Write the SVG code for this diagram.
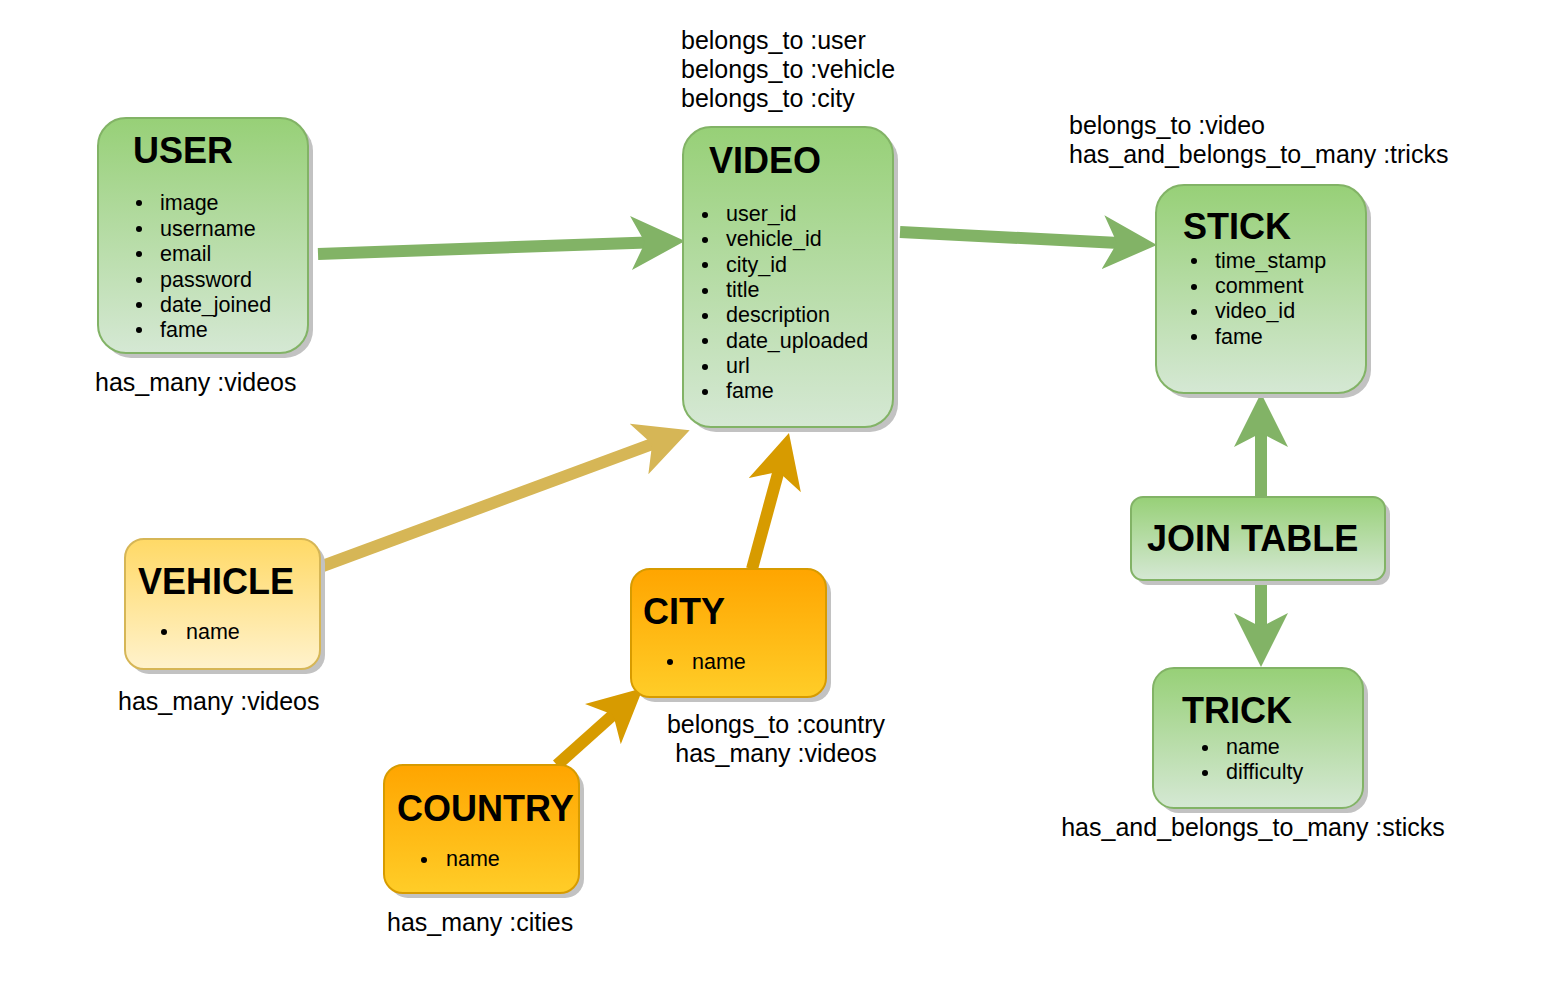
<svg xmlns="http://www.w3.org/2000/svg" width="1554" height="982" viewBox="0 0 1554 982">
<style>
.sh{fill:#c2c2c2}
.g{fill:url(#gG);stroke:#82b366;stroke-width:2}
.y{fill:url(#gY);stroke:#d6b656;stroke-width:2}
.o{fill:url(#gO);stroke:#d79b00;stroke-width:2}
.t{font-family:"Liberation Sans",Arial,sans-serif;font-weight:bold;font-size:36px;fill:#000}
.i{font-family:"Liberation Sans",Arial,sans-serif;font-size:21.5px;fill:#000}
.l{font-family:"Liberation Sans",Arial,sans-serif;font-size:25px;fill:#000}
.b{fill:#000}
.cg{stroke:#82b366;stroke-width:12;fill:none}
.cy{stroke:#d6b656;stroke-width:12;fill:none}
.co{stroke:#d79b00;stroke-width:12;fill:none}
</style>
<defs>
<linearGradient id="gG" x1="0" y1="0" x2="0" y2="1"><stop offset="0" stop-color="#97d077"/><stop offset="1" stop-color="#d5e8d4"/></linearGradient>
<linearGradient id="gY" x1="0" y1="0" x2="0" y2="1"><stop offset="0" stop-color="#ffd966"/><stop offset="1" stop-color="#fff2cc"/></linearGradient>
<linearGradient id="gO" x1="0" y1="0" x2="0" y2="1"><stop offset="0" stop-color="#ffa500"/><stop offset="1" stop-color="#ffcd28"/></linearGradient>
<marker id="mG" viewBox="0 0 54 54" refX="16" refY="27" markerWidth="54" markerHeight="54" markerUnits="userSpaceOnUse" orient="auto"><path d="M0,0 L54,27 L0,54 L14,27 Z" fill="#82b366"/></marker>
<marker id="mY" viewBox="0 0 54 54" refX="16" refY="27" markerWidth="54" markerHeight="54" markerUnits="userSpaceOnUse" orient="auto"><path d="M0,0 L54,27 L0,54 L14,27 Z" fill="#d6b656"/></marker>
<marker id="mO" viewBox="0 0 54 54" refX="16" refY="27" markerWidth="54" markerHeight="54" markerUnits="userSpaceOnUse" orient="auto"><path d="M0,0 L54,27 L0,54 L14,27 Z" fill="#d79b00"/></marker>
</defs>
<rect width="1554" height="982" fill="#fff"/>

<g id="connectors">
<line class="cg" x1="318" y1="254" x2="647" y2="242.4" marker-end="url(#mG)"/>
<line class="cg" x1="900" y1="232" x2="1119" y2="243" marker-end="url(#mG)"/>
<line class="cg" x1="1261" y1="497" x2="1261" y2="431" marker-end="url(#mG)"/>
<line class="cg" x1="1261" y1="580" x2="1261" y2="629" marker-end="url(#mG)"/>
<line class="cy" x1="320" y1="567" x2="654" y2="443.4" marker-end="url(#mY)"/>
<line class="co" x1="752" y1="569" x2="779" y2="469.7" marker-end="url(#mO)"/>
<line class="co" x1="557" y1="765" x2="614.7" y2="713.4" marker-end="url(#mO)"/>
</g>

<g id="user">
<rect class="sh" x="103" y="123" width="210" height="235" rx="28"/>
<rect class="g" x="98" y="118" width="210" height="235" rx="28"/>
<text class="t" x="133" y="163">USER</text>
<g class="i">
<circle class="b" cx="139" cy="203" r="3"/><text x="160" y="210">image</text>
<circle class="b" cx="139" cy="229" r="3"/><text x="160" y="235.5">username</text>
<circle class="b" cx="139" cy="254" r="3"/><text x="160" y="261">email</text>
<circle class="b" cx="139" cy="280" r="3"/><text x="160" y="286.5">password</text>
<circle class="b" cx="139" cy="305" r="3"/><text x="160" y="312">date_joined</text>
<circle class="b" cx="139" cy="330" r="3"/><text x="160" y="337">fame</text>
</g>
</g>

<g id="video">
<rect class="sh" x="688" y="132" width="210" height="300" rx="28"/>
<rect class="g" x="683" y="127" width="210" height="300" rx="28"/>
<text class="t" x="709" y="173">VIDEO</text>
<g class="i">
<circle class="b" cx="705" cy="215" r="3"/><text x="726" y="221">user_id</text>
<circle class="b" cx="705" cy="240" r="3"/><text x="726" y="246">vehicle_id</text>
<circle class="b" cx="705" cy="265" r="3"/><text x="726" y="272">city_id</text>
<circle class="b" cx="705" cy="291" r="3"/><text x="726" y="297">title</text>
<circle class="b" cx="705" cy="316" r="3"/><text x="726" y="322">description</text>
<circle class="b" cx="705" cy="341" r="3"/><text x="726" y="348">date_uploaded</text>
<circle class="b" cx="705" cy="367" r="3"/><text x="726" y="373">url</text>
<circle class="b" cx="705" cy="392" r="3"/><text x="726" y="398">fame</text>
</g>
</g>

<g id="stick">
<rect class="sh" x="1161" y="190" width="210" height="208" rx="28"/>
<rect class="g" x="1156" y="185" width="210" height="208" rx="28"/>
<text class="t" x="1183" y="239">STICK</text>
<g class="i">
<circle class="b" cx="1194" cy="261" r="3"/><text x="1215" y="268">time_stamp</text>
<circle class="b" cx="1194" cy="287" r="3"/><text x="1215" y="293">comment</text>
<circle class="b" cx="1194" cy="312" r="3"/><text x="1215" y="318">video_id</text>
<circle class="b" cx="1194" cy="337" r="3"/><text x="1215" y="344">fame</text>
</g>
</g>

<g id="join_table">
<rect class="sh" x="1136" y="502" width="254" height="83" rx="12"/>
<rect class="g" x="1131" y="497" width="254" height="83" rx="12"/>
<text class="t" x="1147" y="551">JOIN TABLE</text>
</g>

<g id="trick">
<rect class="sh" x="1158" y="673" width="210" height="140" rx="21"/>
<rect class="g" x="1153" y="668" width="210" height="140" rx="21"/>
<text class="t" x="1182" y="723">TRICK</text>
<g class="i">
<circle class="b" cx="1205" cy="748" r="3"/><text x="1226" y="754">name</text>
<circle class="b" cx="1205" cy="773" r="3"/><text x="1226" y="779">difficulty</text>
</g>
</g>

<g id="vehicle">
<rect class="sh" x="130" y="544" width="195" height="130" rx="19"/>
<rect class="y" x="125" y="539" width="195" height="130" rx="19"/>
<text class="t" x="138" y="594">VEHICLE</text>
<circle class="b" cx="164" cy="632" r="3"/><text class="i" x="186" y="639">name</text>
</g>

<g id="city">
<rect class="sh" x="636" y="574" width="195" height="128" rx="19"/>
<rect class="o" x="631" y="569" width="195" height="128" rx="19"/>
<text class="t" x="643" y="624">CITY</text>
<circle class="b" cx="670" cy="662" r="3"/><text class="i" x="692" y="669">name</text>
</g>

<g id="country">
<rect class="sh" x="389" y="770" width="195" height="128" rx="19"/>
<rect class="o" x="384" y="765" width="195" height="128" rx="19"/>
<text class="t" x="397" y="821">COUNTRY</text>
<circle class="b" cx="424" cy="860" r="3"/><text class="i" x="446" y="866">name</text>
</g>

<g id="labels" class="l">
<text x="681" y="49">belongs_to :user</text>
<text x="681" y="78">belongs_to :vehicle</text>
<text x="681" y="107">belongs_to :city</text>
<text x="95" y="391">has_many :videos</text>
<text x="1069" y="134">belongs_to :video</text>
<text x="1069" y="163">has_and_belongs_to_many :tricks</text>
<text x="118" y="710">has_many :videos</text>
<text x="776" y="733" text-anchor="middle">belongs_to :country</text>
<text x="776" y="762" text-anchor="middle">has_many :videos</text>
<text x="387" y="931">has_many :cities</text>
<text x="1253" y="836" text-anchor="middle">has_and_belongs_to_many :sticks</text>
</g>
</svg>
